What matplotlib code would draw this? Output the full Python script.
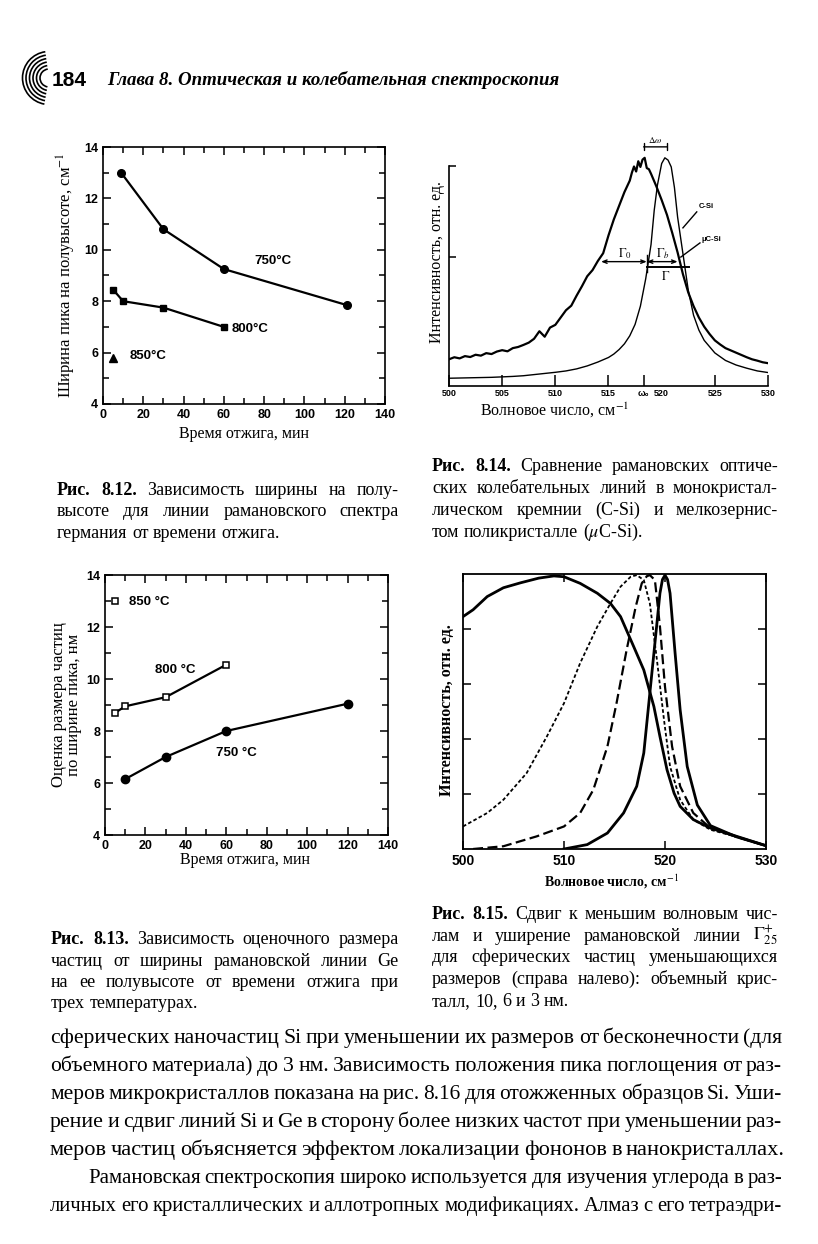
import matplotlib
matplotlib.use("Agg")
import matplotlib.pyplot as plt
from matplotlib.patches import Arc

plt.rcParams['mathtext.fontset'] = 'stix'
plt.rcParams['font.family'] = ['Liberation Serif', 'DejaVu Serif']

# Fig 8.12 - peak half-width vs annealing time
t812_750 = [9, 30, 60, 121]
w812_750 = [13.0, 10.8, 9.25, 7.85]
t812_800 = [5, 10, 30, 60]
w812_800 = [8.45, 8.0, 7.75, 7.0]
t812_850 = [5]
w812_850 = [5.8]

# Fig 8.13 - particle size estimate vs annealing time
t813_750 = [10, 30, 60, 120]
d813_750 = [6.15, 7.0, 8.0, 9.05]
t813_800 = [5, 10, 30, 60]
d813_800 = [8.7, 8.95, 9.3, 10.55]
t813_850 = [5]
d813_850 = [13.0]

# Fig 8.14 - Raman lines, c-Si and uc-Si
nu_ucsi = [500, 500.5, 501, 501.5, 502, 502.5, 503, 503.5, 504, 504.5, 505, 505.5,
           506, 506.5, 507, 507.5, 508, 508.5, 509, 509.5, 510, 510.5, 511, 511.5,
           512, 512.5, 513, 513.5, 514, 514.5, 515, 515.5, 516, 516.5, 517, 517.2,
           517.4, 517.6, 517.8, 518.0, 518.2, 518.4, 518.6, 518.8, 519, 519.5, 520,
           520.5, 521, 521.5, 522, 522.5, 523, 523.5, 524, 524.5, 525, 525.5, 526,
           526.5, 527, 527.5, 528, 528.5, 529, 529.5, 530]
i_ucsi = [0.117, 0.126, 0.121, 0.131, 0.127, 0.137, 0.133, 0.144, 0.140, 0.151, 0.157, 0.152,
          0.166, 0.171, 0.180, 0.190, 0.207, 0.240, 0.216, 0.256, 0.268, 0.300, 0.332, 0.352,
          0.396, 0.437, 0.481, 0.508, 0.548, 0.582, 0.660, 0.730, 0.790, 0.850, 0.900, 0.935,
          0.962, 0.940, 0.985, 0.960, 0.992, 1.0, 0.955, 0.950, 0.930, 0.875, 0.815,
          0.750, 0.670, 0.585, 0.490, 0.410, 0.350, 0.300, 0.260, 0.228, 0.200, 0.182, 0.166,
          0.156, 0.146, 0.136, 0.126, 0.117, 0.111, 0.104, 0.100]
nu_csi = [500, 502, 504, 506, 507, 508, 509, 510, 511, 512, 513, 514, 515, 515.5, 516,
          516.5, 517, 517.5, 518, 518.5, 519, 519.3, 519.6, 520, 520.3, 520.6, 520.9,
          521.2, 521.5, 522, 522.5, 523, 523.5, 524, 525, 526, 527, 528, 529, 530]
i_csi = [0.034, 0.036, 0.038, 0.042, 0.045, 0.050, 0.055, 0.060, 0.066, 0.075, 0.088, 0.105,
         0.125, 0.140, 0.160, 0.185, 0.220, 0.270, 0.350, 0.470, 0.620, 0.770, 0.880, 0.975,
         1.0, 0.990, 0.960, 0.870, 0.740, 0.580, 0.420, 0.310, 0.245, 0.200, 0.145, 0.112,
         0.092, 0.078, 0.066, 0.059]
omega0 = 518.3

# Fig 8.15 - Gamma25+ line for bulk, 10, 6 and 3 nm
nu_bulk = [510, 512.3, 514.3, 515.9, 517.2, 517.9, 518.5, 519.0, 519.5, 519.75, 520.0, 520.25,
           520.5, 521.0, 521.5, 522.2, 523.2, 524.5, 527.1, 530]
i_bulk = [0.0, 0.016, 0.058, 0.131, 0.228, 0.349, 0.567, 0.748, 0.930, 0.980, 0.996, 0.980,
          0.930, 0.712, 0.506, 0.300, 0.160, 0.085, 0.044, 0.012]
nu_10nm = [501, 504, 507.3, 510, 511.6, 512.9, 514.3, 515.2, 516.2, 517.1, 517.7, 518.2, 518.5,
           519.0, 519.5, 520.0, 520.7, 521.5, 522.8, 524.5, 527.1, 530]
i_10nm = [0.0, 0.010, 0.046, 0.082, 0.131, 0.215, 0.373, 0.530, 0.724, 0.881, 0.966, 0.992, 0.996,
          0.978, 0.809, 0.590, 0.373, 0.228, 0.131, 0.076, 0.044, 0.012]
nu_6nm = [500, 502.4, 504, 506.3, 508.3, 510, 511.6, 513.3, 514.6, 515.6, 516.6, 517.2, 517.9,
          518.5, 519.2, 519.9, 520.5, 521.5, 522.8, 524.5, 527.1, 530]
i_6nm = [0.082, 0.131, 0.179, 0.276, 0.409, 0.530, 0.676, 0.809, 0.893, 0.954, 0.990, 0.996,
         0.978, 0.893, 0.688, 0.470, 0.300, 0.179, 0.107, 0.070, 0.044, 0.012]
nu_3nm = [500, 501, 502.4, 504, 505.7, 507.5, 509, 510, 511.6, 513.3, 514.6, 515.6, 516.9, 517.9,
          518.9, 519.5, 520.2, 520.9, 521.5, 522.8, 524.5, 527.1, 530]
i_3nm = [0.845, 0.870, 0.918, 0.950, 0.968, 0.985, 0.993, 0.990, 0.966, 0.930, 0.893, 0.845,
         0.736, 0.651, 0.518, 0.409, 0.288, 0.203, 0.155, 0.107, 0.076, 0.046, 0.012]

fig = plt.figure(figsize=(8.18, 12.44), dpi=100)

# page overlay in pixel units
pg = fig.add_axes([0, 0, 1, 1])
pg.set_xlim(0, 818)
pg.set_ylim(1244, 0)
pg.axis('off')

rend = fig.canvas.get_renderer()


def put_line(words, x0, x1, y, size, justify=True, nbold=0):
    texts = []
    for i, w in enumerate(words):
        t = pg.text(x0, y, w, fontsize=size, va='baseline', ha='left',
                    fontweight='bold' if i < nbold else 'normal')
        texts.append(t)
    em = size * 100 / 72
    widths = [t.get_window_extent(rend).width for t in texts]
    n = len(words)
    gap = 0.25 * em
    if justify and n > 1:
        gap = (x1 - x0 - sum(widths)) / (n - 1)
    if n > 1 and x0 + sum(widths) + (n - 1) * max(gap, 0.18 * em) > x1 + 1:
        f = (x1 - x0 - 0.18 * em * (n - 1)) / sum(widths)
        for t in texts:
            t.set_fontsize(size * f)
        widths = [t.get_window_extent(rend).width for t in texts]
        gap = (x1 - x0 - sum(widths)) / (n - 1) if justify else 0.18 * em
    x = x0
    for t, w in zip(texts, widths):
        t.set_x(x)
        x += w + gap


def para(lines, x0, x1, y0, dy, size, nbold=0, last_free=True, indent=0):
    for k, ln in enumerate(lines):
        last = k == len(lines) - 1 and last_free
        put_line(ln.split(' '), x0 + (indent if k == 0 else 0), x1, y0 + k * dy, size,
                 justify=not last, nbold=nbold if k == 0 else 0)


def sans_ticks(ax, size):
    for lab in ax.get_xticklabels() + ax.get_yticklabels() + ax.get_xticklabels(minor=True):
        lab.set_fontfamily('Liberation Sans')
        lab.set_fontweight('bold')
        lab.set_fontsize(size)


# header
for r in [9, 12.5, 16, 19.5, 23, 26.5]:
    pg.add_patch(Arc((49, 78), 2 * r, 2 * r, theta1=100, theta2=262, color='black', lw=1.2))
pg.text(52, 86, '184', fontsize=15, fontweight='bold', family='Liberation Sans', va='baseline')
pg.text(107, 85, 'Глава 8. Оптическая и колебательная спектроскопия', fontsize=13.6,
        style='italic', fontweight='bold', va='baseline')

# ---------- Fig 8.12 ----------
ax1 = fig.add_axes([103 / 818, 1 - 404 / 1244, 282 / 818, 257 / 1244])
ax1.plot(t812_750, w812_750, '-o', color='black', lw=1.6, ms=5.5)
ax1.plot(t812_800, w812_800, '-s', color='black', lw=1.6, ms=5)
ax1.plot(t812_850, w812_850, '^', color='black', ms=6)
ax1.text(75, 9.55, '750°C', fontsize=9.5, family='Liberation Sans', fontweight='bold', va='center')
ax1.text(64, 6.9, '800°C', fontsize=9.5, family='Liberation Sans', fontweight='bold', va='center')
ax1.text(13, 5.85, '850°C', fontsize=9.5, family='Liberation Sans', fontweight='bold', va='center')
ax1.set_xlim(0, 140)
ax1.set_ylim(4, 14)
ax1.set_xticks(range(0, 141, 20))
ax1.set_xticks(range(10, 140, 20), minor=True)
ax1.set_yticks(range(4, 15, 2))
ax1.set_yticks(range(5, 14, 2), minor=True)
ax1.text(-0.13, 0.5, 'Ширина пика на полувысоте, см$^{-1}$', transform=ax1.transAxes,
         rotation=90, ha='center', va='center', fontsize=12)
ax1.text(0.5, -0.115, 'Время отжига, мин', transform=ax1.transAxes,
         ha='center', va='center', fontsize=11.5)

# ---------- Fig 8.13 ----------
ax3 = fig.add_axes([105 / 818, 1 - 835 / 1244, 283 / 818, 260 / 1244])
ax3.plot(t813_750, d813_750, '-o', color='black', lw=1.6, ms=6)
ax3.plot(t813_800, d813_800, '-s', color='black', lw=1.6, ms=4.5, mfc='white', mew=1.1)
ax3.plot(t813_850, d813_850, 's', color='black', ms=4.5, mfc='white', mew=1.1)
ax3.text(12, 12.95, '850 °C', fontsize=9.5, family='Liberation Sans', fontweight='bold', va='center')
ax3.text(24.5, 10.35, '800 °C', fontsize=9.5, family='Liberation Sans', fontweight='bold', va='center')
ax3.text(55, 7.15, '750 °C', fontsize=9.5, family='Liberation Sans', fontweight='bold', va='center')
ax3.set_xlim(0, 140)
ax3.set_ylim(4, 14)
ax3.set_xticks(range(0, 141, 20))
ax3.set_xticks(range(10, 140, 20), minor=True)
ax3.set_yticks(range(4, 15, 2))
ax3.set_yticks(range(5, 14, 2), minor=True)
ax3.text(-0.137, 0.5, 'Оценка размера частиц\nпо ширине пика, нм', transform=ax3.transAxes,
         rotation=90, ha='center', va='center', fontsize=12, linespacing=0.95)
ax3.text(0.495, -0.096, 'Время отжига, мин', transform=ax3.transAxes,
         ha='center', va='center', fontsize=11.5)

for ax in (ax1, ax3):
    ax.tick_params(which='both', direction='in', top=True, right=True, width=1.1)
    ax.tick_params(which='major', length=6)
    ax.tick_params(which='minor', length=4.5)
    for s in ax.spines.values():
        s.set_linewidth(1.2)
    sans_ticks(ax, 9)

# ---------- Fig 8.14 ----------
ax2 = fig.add_axes([449 / 818, 1 - 386 / 1244, 319 / 818, 251 / 1244])
ax2.plot(nu_ucsi, i_ucsi, color='black', lw=1.6)
ax2.plot(nu_csi, i_csi, color='black', lw=1.0)
ax2.set_xlim(500, 530)
ax2.set_ylim(0, 1.1)
ax2.spines['top'].set_visible(False)
ax2.spines['right'].set_visible(False)
ax2.spines['left'].set_bounds(0, 0.963)
ax2.spines['left'].set_linewidth(1.2)
ax2.spines['bottom'].set_linewidth(1.2)
ax2.set_xticks([500, 505, 510, 515, omega0, 525, 530])
ax2.set_xticklabels(['500', '505', '510', '515', 'ω₀', '525', '530'])
ax2.set_xticks([520], minor=True)
ax2.set_xticklabels(['520'], minor=True)
ax2.set_yticks([0.564, 0.963])
ax2.set_yticklabels([])
ax2.tick_params(which='major', direction='in', length=8, width=1.1, pad=2)
ax2.tick_params(which='minor', length=0, pad=2)
ax2.tick_params(axis='y', length=5)
sans_ticks(ax2, 6.5)
ax2.annotate('', xy=(518.3, 1.048), xytext=(520.5, 1.048),
             arrowprops=dict(arrowstyle='|-|, widthA=0.25, widthB=0.25', lw=1.0, color='black',
                             shrinkA=0, shrinkB=0))
ax2.text(519.4, 1.078, r'$\Delta\omega$', fontsize=6.5, ha='center', va='center')
ax2.annotate('', xy=(514.3, 0.545), xytext=(518.6, 0.545),
             arrowprops=dict(arrowstyle='<->, head_length=0.3, head_width=0.12', lw=1.0,
                             color='black', shrinkA=0, shrinkB=0))
ax2.annotate('', xy=(518.6, 0.545), xytext=(521.5, 0.545),
             arrowprops=dict(arrowstyle='<->, head_length=0.3, head_width=0.12', lw=1.0,
                             color='black', shrinkA=0, shrinkB=0))
ax2.plot([518.6, 522.6], [0.522, 0.522], color='black', lw=1.4)
ax2.plot([518.6, 518.6], [0.50, 0.575], color='black', lw=1.0)
ax2.text(516.5, 0.58, r'$\Gamma_0$', fontsize=9, ha='center', va='center')
ax2.text(520.1, 0.58, r'$\Gamma_b$', fontsize=9, ha='center', va='center')
ax2.text(520.4, 0.48, r'$\Gamma$', fontsize=9, ha='center', va='center')
ax2.plot([523.3, 522.0], [0.763, 0.693], color='black', lw=1.0)
ax2.text(523.5, 0.785, 'C-Si', fontsize=5.5, family='Liberation Sans', fontweight='bold',
         va='center')
ax2.plot([523.6, 521.8], [0.627, 0.565], color='black', lw=1.0)
ax2.text(523.7, 0.64, 'μC-Si', fontsize=5.5, family='Liberation Sans', fontweight='bold',
         va='center')
ax2.text(-0.038, 0.494, 'Интенсивность, отн. ед.', transform=ax2.transAxes,
         rotation=90, ha='center', va='center', fontsize=11.5)
ax2.text(0.33, -0.098, 'Волновое число, см$^{-1}$', transform=ax2.transAxes,
         ha='center', va='center', fontsize=11.5)

# ---------- Fig 8.15 ----------
ax4 = fig.add_axes([463 / 818, 1 - 849 / 1244, 303 / 818, 275 / 1244])
ax4.plot(nu_3nm, i_3nm, color='black', lw=2.0)
ax4.plot(nu_6nm, i_6nm, color='black', lw=1.3, ls=(0, (2, 1.3)))
ax4.plot(nu_10nm, i_10nm, color='black', lw=1.6, ls=(0, (4.5, 2)))
ax4.plot(nu_bulk, i_bulk, color='black', lw=2.0)
ax4.set_xlim(500, 530)
ax4.set_ylim(0, 1)
ax4.set_xticks([500, 510, 520, 530])
ax4.set_yticks([0.2, 0.4, 0.6, 0.8])
ax4.set_yticklabels([])
ax4.tick_params(direction='in', top=True, right=True, length=6, width=1.1)
for s in ax4.spines.values():
    s.set_linewidth(1.3)
sans_ticks(ax4, 10)
ax4.text(-0.053, 0.505, 'Интенсивность, отн. ед.', transform=ax4.transAxes,
         rotation=90, ha='center', va='center', fontsize=11.5, fontweight='bold')
ax4.text(0.49, -0.12, 'Волновое число, см$^{-1}$', transform=ax4.transAxes,
         ha='center', va='center', fontsize=10, fontweight='bold')

# ---------- captions ----------
para(['Рис. 8.12. Зависимость ширины на полу-',
      'высоте для линии рамановского спектра',
      'германия от времени отжига.'], 57, 399, 495, 21.5, 13, nbold=2)
para(['Рис. 8.14. Сравнение рамановских оптиче-',
      'ских колебательных линий в монокристал-',
      'лическом кремнии (C-Si) и мелкозернис-',
      'том поликристалле ($\\mu$C-Si).'], 432, 778, 471, 22, 13, nbold=2)
para(['Рис. 8.13. Зависимость оценочного размера',
      'частиц от ширины рамановской линии Ge',
      'на ее полувысоте от времени отжига при',
      'трех температурах.'], 51, 399, 944, 21.5, 13, nbold=2)
para(['Рис. 8.15. Сдвиг к меньшим волновым чис-',
      'лам и уширение рамановской линии $\\Gamma_{25}^{+}$',
      'для сферических частиц уменьшающихся',
      'размеров (справа налево): объемный крис-',
      'талл, 10, 6 и 3 нм.'], 432, 778, 919, 21.7, 13, nbold=2)

# ---------- body text ----------
para(['сферических наночастиц Si при уменьшении их размеров от бесконечности (для',
      'объемного материала) до 3 нм. Зависимость положения пика поглощения от раз-',
      'меров микрокристаллов показана на рис. 8.16 для отожженных образцов Si. Уши-',
      'рение и сдвиг линий Si и Ge в сторону более низких частот при уменьшении раз-',
      'меров частиц объясняется эффектом локализации фононов в нанокристаллах.'],
     50, 782, 1043, 28, 16)
para(['Рамановская спектроскопия широко используется для изучения углерода в раз-',
      'личных его кристаллических и аллотропных модификациях. Алмаз с его тетраэдри-'],
     50, 782, 1183, 28, 16, last_free=False, indent=38)

fig.savefig('out.png', dpi=100)
